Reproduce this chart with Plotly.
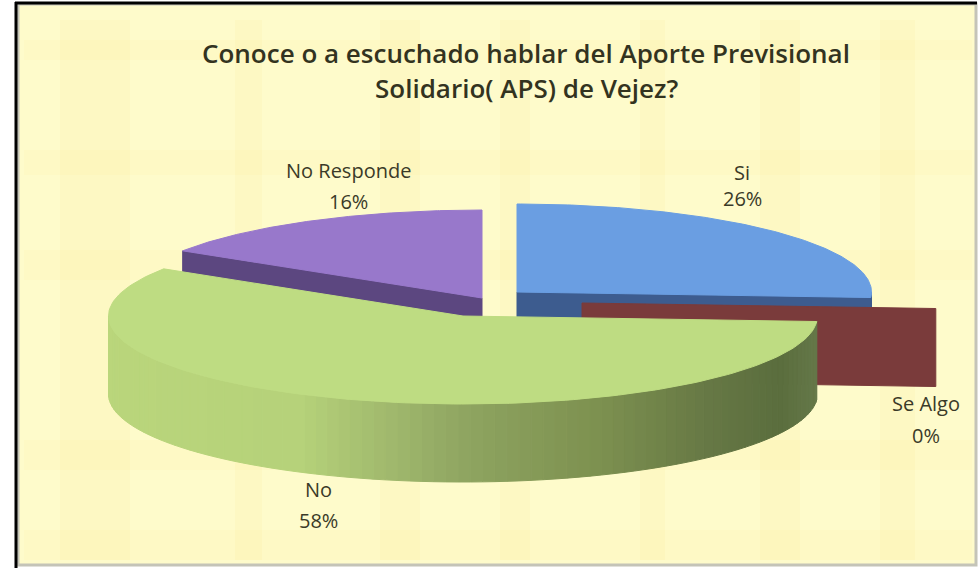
import numpy as np
import plotly.graph_objects as go

# data
categories = ["Si", "Se Algo", "No", "No Responde"]
values = [26, 0, 58, 16]

# styling / layout constants (not data)
top_colors = ["#6A9EE2", "#7A3B3B", "#BEDC82", "#9878CB"]
wall_colors = ["#3D5C8F", "#7A3B3B", "#8DA360", "#5C4780"]
centers = [(517, 292), (582, 303), (463, 316), (482, 298)]
label_pos = [(742, 172, 198), (926, 403, 435), (318, 489, 520), (348, 170, 201)]
RX, RY, DEPTH = 354.5, 88, 78
FONT = "Open Sans"
TEXT = "#3A3A28"
BG = "#FEFBCB"
wall_stops_x = [110, 300, 400, 470, 600, 700, 780, 817]
wall_stops_c = [(186, 214, 124), (182, 210, 122), (158, 182, 108), (142, 164, 96),
                (125, 145, 80), (104, 122, 70), (91, 110, 62), (102, 121, 74)]
# faint paper-texture bands of the background
texture_x = [(60, 130), (235, 262), (380, 420), (500, 530), (640, 665), (760, 800), (880, 915)]
texture_y = [(40, 60), (150, 175), (250, 280), (440, 470), (530, 560)]

total = sum(values)
angles = np.cumsum([0] + values) / total * 2 * np.pi


def rim(c, th):
    return c[0] + RX * np.sin(th), c[1] - RY * np.cos(th)


def poly(fig, xs, ys, color):
    fig.add_trace(go.Scatter(x=list(xs), y=list(ys), mode="lines", fill="toself", fillcolor=color,
                             line=dict(color=color, width=1), hoverinfo="skip", showlegend=False))


def cut_face(fig, c, th, color):
    rx, ry = rim(c, th)
    poly(fig, [c[0], rx, rx, c[0], c[0]], [c[1], ry, ry + DEPTH, c[1] + DEPTH, c[1]], color)


def top_face(fig, c, a0, a1, color):
    t = np.linspace(a0, a1, 160)
    x, y = rim(c, t)
    poly(fig, np.r_[c[0], x, c[0]], np.r_[c[1], y, c[1]], color)


def curved_wall(fig, c, a0, a1, color):
    lo, hi = max(a0, np.pi / 2), min(a1, 3 * np.pi / 2)
    if hi <= lo:
        return
    t = np.linspace(lo, hi, 90)
    for t0, t1 in zip(t[:-1], t[1:]):
        tt = np.linspace(t0, t1, 3)
        x, y = rim(c, tt)
        if color is None:
            xm = float(np.mean(x))
            rgb = [np.interp(xm, wall_stops_x, [s[k] for s in wall_stops_c]) for k in range(3)]
            col = "rgb(%d,%d,%d)" % tuple(rgb)
        else:
            col = color
        poly(fig, np.r_[x, x[::-1], x[0]], np.r_[y, y[::-1] + DEPTH, y[0]], col)


fig = go.Figure()
order = [3, 0, 1, 2]  # back to front
for i in order:
    c, a0, a1 = centers[i], angles[i], angles[i + 1]
    if i == 2:
        curved_wall(fig, c, a0, a1, None)
        top_face(fig, c, a0, a1, top_colors[i])
    elif i == 1:
        cut_face(fig, c, a0, wall_colors[i])
    else:
        th = a1 if i == 0 else a0
        cut_face(fig, c, th, wall_colors[i])
        curved_wall(fig, c, a0, a1, wall_colors[i])
        top_face(fig, c, a0, a1, top_colors[i])

ann = []
for name, v, (x, y1, y2) in zip(categories, values, label_pos):
    ann.append(dict(x=x, y=y1, text=name, showarrow=False, font=dict(family=FONT, size=20, color=TEXT)))
    ann.append(dict(x=x, y=y2, text=f"{round(v / total * 100)}%", showarrow=False,
                    font=dict(family=FONT, size=20, color=TEXT)))
for text, y in [("Conoce o a escuchado hablar del Aporte Previsional", 53),
                ("Solidario( APS) de Vejez?", 88)]:
    ann.append(dict(x=526, y=y, text=text, showarrow=False,
                    font=dict(family=FONT, size=26, color="#33331F", weight=600)))

shapes = [dict(type="rect", layer="below", x0=18, x1=976, y0=4, y1=565, fillcolor=BG,
               line=dict(color="#C4C4B8", width=3))]
for x0, x1 in texture_x:
    shapes.append(dict(type="rect", layer="below", x0=x0, x1=x1, y0=20, y1=560,
                       fillcolor="rgba(250,225,130,0.10)", line=dict(width=0)))
for y0, y1 in texture_y:
    shapes.append(dict(type="rect", layer="below", x0=24, x1=972, y0=y0, y1=y1,
                       fillcolor="rgba(250,225,130,0.08)", line=dict(width=0)))
shapes.append(dict(type="line", layer="below", x0=16, x1=16, y0=2, y1=568, line=dict(color="black", width=3)))
shapes.append(dict(type="line", layer="below", x0=15, x1=977, y0=3, y1=3, line=dict(color="black", width=3)))

fig.update_layout(
    width=980, height=568, margin=dict(l=0, r=0, t=0, b=0), autosize=False,
    paper_bgcolor="white", plot_bgcolor="white", showlegend=False, annotations=ann, shapes=shapes,
    xaxis=dict(range=[0, 980], visible=False, fixedrange=True),
    yaxis=dict(range=[568, 0], visible=False, fixedrange=True),
)
fig.write_html("out.html", config=dict(displayModeBar=False),
               post_script="document.body.style.margin='0';document.documentElement.style.overflow='hidden';")
